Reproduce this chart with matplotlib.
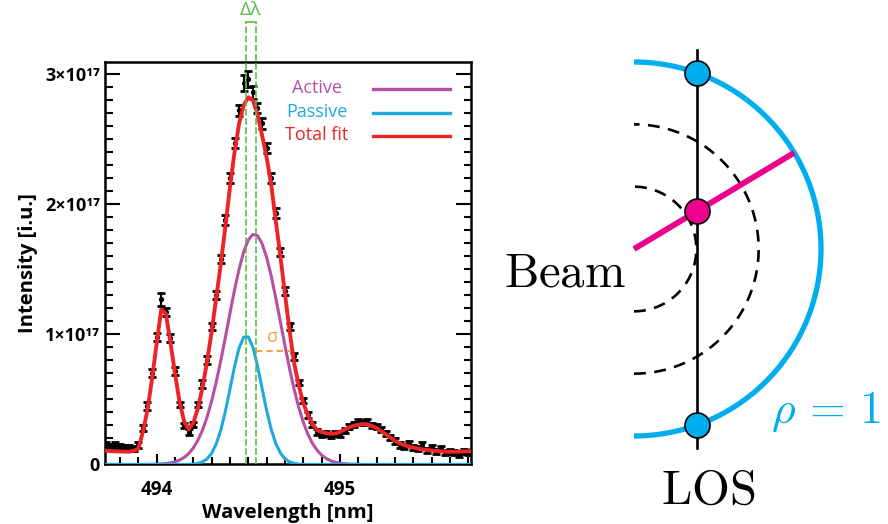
import numpy as np
import matplotlib
matplotlib.use("Agg")
import matplotlib.pyplot as plt
from matplotlib.ticker import FixedLocator, MultipleLocator

plt.rcParams['font.family'] = ['Open Sans', 'DejaVu Sans']

# spectrum, intensity in units of 1e17
wavelength = [
    493.700, 493.725, 493.750, 493.775, 493.800, 493.825, 493.850, 493.875, 493.900, 493.925,
    493.950, 493.975, 494.000, 494.025, 494.050, 494.075, 494.100, 494.125, 494.150, 494.175,
    494.200, 494.225, 494.250, 494.275, 494.300, 494.325, 494.350, 494.375, 494.400, 494.425,
    494.450, 494.475, 494.500, 494.525, 494.550, 494.575, 494.600, 494.625, 494.650, 494.675,
    494.700, 494.725, 494.750, 494.775, 494.800, 494.825, 494.850, 494.875, 494.900, 494.925,
    494.950, 494.975, 495.000, 495.025, 495.050, 495.075, 495.100, 495.125, 495.150, 495.175,
    495.200, 495.225, 495.250, 495.275, 495.300, 495.325, 495.350, 495.375, 495.400, 495.425,
    495.450, 495.475, 495.500, 495.525, 495.550, 495.575, 495.600, 495.625, 495.650, 495.675,
    495.700, 495.725]
measured = [
    0.15, 0.15, 0.14, 0.15, 0.14, 0.13, 0.13, 0.12, 0.15, 0.28,
    0.45, 0.70, 0.98, 1.27, 1.17, 0.97, 0.72, 0.46, 0.30, 0.25,
    0.31, 0.46, 0.62, 0.80, 1.06, 1.30, 1.58, 1.88, 2.20, 2.47,
    2.72, 2.93, 2.96, 2.86, 2.74, 2.62, 2.43, 2.20, 1.93, 1.63,
    1.33, 1.06, 0.83, 0.63, 0.49, 0.38, 0.31, 0.25, 0.23, 0.24,
    0.22, 0.24, 0.23, 0.26, 0.29, 0.31, 0.33, 0.32, 0.33, 0.30,
    0.29, 0.27, 0.24, 0.21, 0.18, 0.15, 0.14, 0.16, 0.13, 0.12,
    0.15, 0.11, 0.13, 0.10, 0.12, 0.09, 0.10, 0.09, 0.08, 0.10,
    0.09, 0.10]
measured_err = [
    0.02, 0.02, 0.02, 0.02, 0.02, 0.02, 0.02, 0.02, 0.02, 0.02,
    0.03, 0.03, 0.03, 0.05, 0.03, 0.03, 0.03, 0.02, 0.02, 0.02,
    0.02, 0.02, 0.03, 0.03, 0.03, 0.03, 0.03, 0.04, 0.04, 0.04,
    0.04, 0.06, 0.06, 0.05, 0.04, 0.04, 0.04, 0.04, 0.04, 0.03,
    0.03, 0.03, 0.03, 0.02, 0.02, 0.02, 0.02, 0.02, 0.02, 0.02,
    0.02, 0.02, 0.02, 0.02, 0.02, 0.02, 0.02, 0.02, 0.02, 0.02,
    0.02, 0.02, 0.02, 0.02, 0.02, 0.02, 0.02, 0.02, 0.02, 0.02,
    0.02, 0.02, 0.02, 0.02, 0.02, 0.02, 0.02, 0.02, 0.02, 0.02,
    0.02, 0.02]
total_fit = [
    0.107, 0.105, 0.103, 0.101, 0.100, 0.099, 0.098, 0.105, 0.12, 0.25,
    0.42, 0.66, 0.93, 1.19, 1.16, 0.94, 0.70, 0.48, 0.33, 0.27,
    0.32, 0.43, 0.59, 0.79, 1.02, 1.28, 1.54, 1.83, 2.13, 2.40,
    2.62, 2.76, 2.82, 2.80, 2.69, 2.53, 2.36, 2.15, 1.87, 1.60,
    1.31, 1.03, 0.78, 0.61, 0.47, 0.38, 0.31, 0.265, 0.25, 0.24,
    0.236, 0.238, 0.25, 0.268, 0.284, 0.297, 0.305, 0.31, 0.308, 0.295,
    0.28, 0.256, 0.232, 0.207, 0.183, 0.164, 0.149, 0.138, 0.130, 0.122,
    0.116, 0.112, 0.107, 0.104, 0.101, 0.099, 0.098, 0.098, 0.099, 0.100,
    0.101, 0.102]
active = [
    0, 0, 0, 0, 0, 0, 0, 0, 0, 0,
    0.001, 0.001, 0.002, 0.004, 0.007, 0.012, 0.020, 0.034, 0.054, 0.084,
    0.127, 0.186, 0.263, 0.364, 0.487, 0.633, 0.798, 0.977, 1.162, 1.341,
    1.502, 1.634, 1.725, 1.767, 1.758, 1.697, 1.591, 1.448, 1.278, 1.096,
    0.912, 0.737, 0.577, 0.440, 0.325, 0.233, 0.162, 0.110, 0.072, 0.046,
    0.028, 0.017, 0.010, 0.006, 0.003, 0.002, 0.001, 0, 0, 0,
    0, 0, 0, 0, 0, 0, 0, 0, 0, 0,
    0, 0, 0, 0, 0, 0, 0, 0, 0, 0,
    0, 0]
passive = [
    0, 0, 0, 0, 0, 0, 0, 0, 0, 0,
    0, 0, 0, 0, 0, 0, 0, 0, 0, 0.001,
    0.003, 0.008, 0.020, 0.043, 0.086, 0.158, 0.265, 0.409, 0.579, 0.752,
    0.896, 0.978, 0.980, 0.901, 0.759, 0.586, 0.416, 0.270, 0.161, 0.088,
    0.044, 0.020, 0.009, 0.003, 0.001, 0, 0, 0, 0, 0,
    0, 0, 0, 0, 0, 0, 0, 0, 0, 0,
    0, 0, 0, 0, 0, 0, 0, 0, 0, 0,
    0, 0, 0, 0, 0, 0, 0, 0, 0, 0,
    0, 0]

passive_center = 494.487
active_center = 494.540
sigma_level = 0.87
sigma_end = 494.727

x_ticks = [494, 495]
y_ticks = [0, 1, 2, 3]
y_ticklabels = ['0', '1×10¹⁷', '2×10¹⁷', '3×10¹⁷']

legend_names = ['Active', 'Passive', 'Total fit']

# sketch geometry, in units of rho
los_x = 0.337
flux_radii = [1 / 3, 2 / 3]
beam_angle = 31  # deg

C_ACTIVE = '#b84fa5'
C_PASSIVE = '#1eaadf'
C_TOTAL = '#ec2427'
C_GREEN = '#5dbb4a'
C_ORANGE = '#f4a343'
C_CYAN = '#00aeef'
C_MAGENTA = '#ec008c'

fig = plt.figure(figsize=(8.88, 5.24), dpi=100)

# ---- spectrum panel ----
ax = fig.add_axes([0.1182, 0.1136, 0.4122, 0.7687])

ax.errorbar(wavelength, measured, yerr=measured_err, fmt='o', ms=2.8,
            color='k', ecolor='k', elinewidth=1.5, capsize=3.2, capthick=2.0, zorder=2)
ax.plot(wavelength, active, color=C_ACTIVE, lw=2.2, zorder=3)
ax.plot(wavelength, passive, color=C_PASSIVE, lw=2.2, zorder=3)
ax.plot(wavelength, total_fit, color=C_TOTAL, lw=2.8, zorder=4)

# delta lambda bracket
top = 3.40
for c in (passive_center, active_center):
    ax.plot([c, c], [0, top], color=C_GREEN, lw=1.2, ls=(0, (4, 1.5)), clip_on=False, zorder=5)
ax.plot([passive_center, active_center], [top, top], color=C_GREEN, lw=1.2, clip_on=False, zorder=5)
ax.text((passive_center + active_center) / 2, top + 0.02, 'Δλ', color=C_GREEN,
        fontsize=14, ha='center', va='bottom')

# sigma marker
ax.plot([active_center, sigma_end], [sigma_level, sigma_level], color=C_ORANGE,
        lw=1.5, ls=(0, (3, 2)), zorder=5)
ax.text((active_center + sigma_end) / 2, sigma_level + 0.04, 'σ', color=C_ORANGE,
        fontsize=13, ha='center', va='bottom')

# hand-made legend
leg_y = [0.934, 0.875, 0.819]
for name, col, y in zip(legend_names, [C_ACTIVE, C_PASSIVE, C_TOTAL], leg_y):
    ax.text(0.578, y, name, color=col, fontsize=13, ha='center', va='center',
            transform=ax.transAxes)
    ax.plot([0.732, 0.943], [y - 0.003, y - 0.003], color=col, lw=2.4,
            transform=ax.transAxes)

ax.set_xlim(493.718, 495.715)
ax.set_ylim(0, 3.094)
ax.xaxis.set_major_locator(FixedLocator(x_ticks))
ax.xaxis.set_minor_locator(MultipleLocator(0.1))
ax.yaxis.set_major_locator(FixedLocator(y_ticks))
ax.yaxis.set_minor_locator(MultipleLocator(0.1))
ax.set_yticklabels(y_ticklabels)
ax.tick_params(which='both', direction='in', top=False, right=True, width=1.5)
ax.tick_params(axis='y', which='major', length=10.8, pad=3.5, labelsize=13)
ax.tick_params(axis='y', which='minor', length=5.4)
ax.tick_params(axis='x', which='major', length=7, pad=11, labelsize=13.5)
ax.tick_params(axis='x', which='minor', length=5.4)
for lab in ax.get_xticklabels() + ax.get_yticklabels():
    lab.set_fontweight('bold')
for s in ax.spines.values():
    s.set_linewidth(1.8)
ax.set_xlabel('Wavelength [nm]', fontsize=14.5, fontweight='bold', labelpad=2)
ax.set_ylabel('Intensity [i.u.]', fontsize=14.5, fontweight='bold', labelpad=5)

# ---- flux surface sketch ----
ax2 = fig.add_axes([480 / 888, 0, 408 / 888, 1])
ax2.set_xlim(-0.8235, 1.3583)
ax2.set_ylim(-1.4706, 1.3316)
ax2.axis('off')

theta = np.radians(np.linspace(-90, 90, 300))
ax2.plot(np.cos(theta), np.sin(theta), color=C_CYAN, lw=3.8, solid_capstyle='butt')
for r in flux_radii:
    ax2.plot(r * np.cos(theta), r * np.sin(theta), color='k', lw=1.9, dashes=(4.5, 3.2))

los_half = 1.064
ax2.plot([los_x, los_x], [-los_half, los_half], color='k', lw=1.9)

b = np.radians(beam_angle)
ax2.plot([0, np.cos(b)], [0, np.sin(b)], color=C_MAGENTA, lw=4.2, solid_capstyle='butt')

y_edge = np.sqrt(1 - los_x ** 2)
ax2.plot([los_x, los_x], [y_edge, -y_edge], 'o', ms=18, mfc=C_CYAN, mec='k', mew=1.2)
ax2.plot([los_x], [los_x * np.tan(b)], 'o', ms=18, mfc=C_MAGENTA, mec='k', mew=1.2)

ax2.text(-0.369, -0.198, r'$\mathrm{Beam}$', math_fontfamily='cm', fontsize=35,
         ha='center', va='baseline')
ax2.text(0.396, -1.364, r'$\mathrm{LOS}$', math_fontfamily='cm', fontsize=35,
         ha='center', va='baseline')
ax2.text(0.735, -0.932, r'$\rho\,=\,1$', math_fontfamily='cm', fontsize=33,
         color=C_CYAN, ha='left', va='baseline')

fig.savefig('out.png', dpi=100)
